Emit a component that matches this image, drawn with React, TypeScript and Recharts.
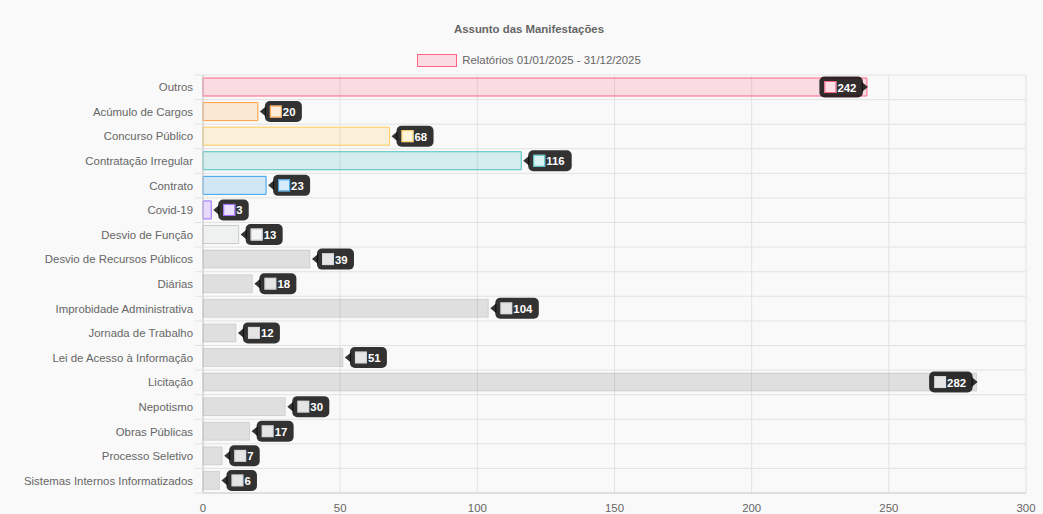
import React from "react";
import { BarChart, Bar, XAxis, YAxis, CartesianGrid, Cell, LabelList } from "recharts";

const categories = [
  "Outros",
  "Acúmulo de Cargos",
  "Concurso Público",
  "Contratação Irregular",
  "Contrato",
  "Covid-19",
  "Desvio de Função",
  "Desvio de Recursos Públicos",
  "Diárias",
  "Improbidade Administrativa",
  "Jornada de Trabalho",
  "Lei de Acesso à Informação",
  "Licitação",
  "Nepotismo",
  "Obras Públicas",
  "Processo Seletivo",
  "Sistemas Internos Informatizados",
];
const values = [242, 20, 68, 116, 23, 3, 13, 39, 18, 104, 12, 51, 282, 30, 17, 7, 6];
const fills = [
  "rgba(255,99,132,0.2)",
  "rgba(255,159,64,0.2)",
  "rgba(255,205,86,0.2)",
  "rgba(75,192,192,0.2)",
  "rgba(54,162,235,0.2)",
  "rgba(153,102,255,0.2)",
  "rgba(201,203,207,0.2)",
];
const strokes = [
  "rgb(255,99,132)",
  "rgb(255,159,64)",
  "rgb(255,205,86)",
  "rgb(75,192,192)",
  "rgb(54,162,235)",
  "rgb(153,102,255)",
  "rgb(201,203,207)",
];
const defaultFill = "rgba(0,0,0,0.1)";
const defaultStroke = "rgba(0,0,0,0.1)";
const xTicks = [0, 50, 100, 150, 200, 250, 300];
const title = "Assunto das Manifestações";
const legendLabel = "Relatórios 01/01/2025 - 31/12/2025";

const W = 1043;
const H = 514;
const M_TOP = 75;
const M_RIGHT = 17;
const Y_W = 203;
const X_H = 21;
const PLOT_H = H - M_TOP - X_H;
const BAND = PLOT_H / categories.length;
const FONT = "'Liberation Sans', Arial, Helvetica, sans-serif";
const FS = 11.4;

const data = categories.map((name, i) => ({ name, value: values[i] }));
const fillOf = (i: number) => fills[i] ?? defaultFill;
const strokeOf = (i: number) => strokes[i] ?? defaultStroke;

const YTick = (props: any) => {
  const { y, payload, index } = props;
  const ax = Y_W;
  return (
    <g>
      <line x1={ax - 8} x2={ax} y1={y - BAND / 2} y2={y - BAND / 2} stroke="#e2e2e2" />
      {index === categories.length - 1 && (
        <line x1={ax - 8} x2={ax} y1={y + BAND / 2} y2={y + BAND / 2} stroke="#e2e2e2" />
      )}
      <text x={ax - 10} y={y} textAnchor="end" dominantBaseline="central" fill="#666" fontSize={FS} fontFamily={FONT}>
        {payload.value}
      </text>
    </g>
  );
};

const XTick = (props: any) => {
  const { x, payload } = props;
  return (
    <text x={x} y={H - X_H + 15} textAnchor="middle" dominantBaseline="central" fill="#666" fontSize={FS} fontFamily={FONT}>
      {payload.value}
    </text>
  );
};

const TipLabel = (props: any) => {
  const { x, y, width, height, value, index } = props;
  const end = Number(x) + Number(width);
  const cy = Number(y) + Number(height) / 2;
  const txtW = String(value).length * 6.5;
  const boxW = 24 + txtW;
  const boxH = 21;
  const flip = end > W / 2;
  let boxX: number;
  let pts: string;
  if (!flip) {
    const tip = end + 2;
    boxX = tip + 5;
    pts = `${tip},${cy} ${boxX + 1},${cy - 5} ${boxX + 1},${cy + 5}`;
  } else {
    const tip = end + 1;
    const boxR = tip - 5;
    boxX = boxR - boxW;
    pts = `${tip},${cy} ${boxR - 1},${cy - 5} ${boxR - 1},${cy + 5}`;
  }
  return (
    <g>
      <rect x={boxX} y={cy - boxH / 2} width={boxW} height={boxH} rx={5} ry={5} fill="rgba(0,0,0,0.8)" />
      <polygon points={pts} fill="rgba(0,0,0,0.8)" />
      <rect x={boxX + 5} y={cy - 6} width={12} height={12} fill="#fff" />
      <rect x={boxX + 5.5} y={cy - 5.5} width={11} height={11} fill={fillOf(index)} stroke={strokeOf(index)} strokeWidth={1} />
      <text x={boxX + 18} y={cy + 0.5} dominantBaseline="central" fill="#fff" fontSize={FS} fontWeight="bold" fontFamily={FONT}>
        {value}
      </text>
    </g>
  );
};

export default function App() {
  return (
    <div style={{ position: "absolute", left: 0, top: 0, width: W, height: H, background: "#f9f9f9", fontFamily: FONT }}>
      <div style={{ position: "absolute", left: 0, width: 1058, top: 21, textAlign: "center", fontSize: FS, fontWeight: "bold", color: "#666", lineHeight: "16px" }}>
        {title}
      </div>
      <div style={{ position: "absolute", left: 0, width: 1058, top: 52, display: "flex", justifyContent: "center", alignItems: "center", fontSize: FS, color: "#666", lineHeight: "16px" }}>
        <span style={{ display: "inline-block", width: 38, height: 11, background: fills[0], border: `1px solid ${strokes[0]}`, marginRight: 5 }} />
        <span>{legendLabel}</span>
      </div>
      <div style={{ position: "absolute", left: 0, top: 0 }}>
        <BarChart
          width={W}
          height={H}
          data={data}
          layout="vertical"
          margin={{ top: M_TOP, right: M_RIGHT, left: 0, bottom: 0 }}
          barSize={18}
        >
          <CartesianGrid
            stroke="#e2e2e2"
            horizontalCoordinatesGenerator={({ offset }: any) =>
              Array.from({ length: categories.length + 1 }, (_, i) => offset.top + i * BAND)
            }
          />
          <XAxis
            type="number"
            domain={[0, 300]}
            ticks={xTicks}
            height={X_H}
            tickLine={false}
            axisLine={{ stroke: "#d0d0d0" }}
            tick={<XTick />}
            interval={0}
          />
          <YAxis
            type="category"
            dataKey="name"
            width={Y_W}
            tickLine={false}
            axisLine={{ stroke: "#c8c8c8" }}
            tick={<YTick />}
            interval={0}
          />
          <Bar dataKey="value" isAnimationActive={false}>
            {data.map((d, i) => (
              <Cell key={d.name} fill={fillOf(i)} stroke={strokeOf(i)} strokeWidth={1} />
            ))}
            <LabelList dataKey="value" content={<TipLabel />} />
          </Bar>
        </BarChart>
      </div>
    </div>
  );
}
